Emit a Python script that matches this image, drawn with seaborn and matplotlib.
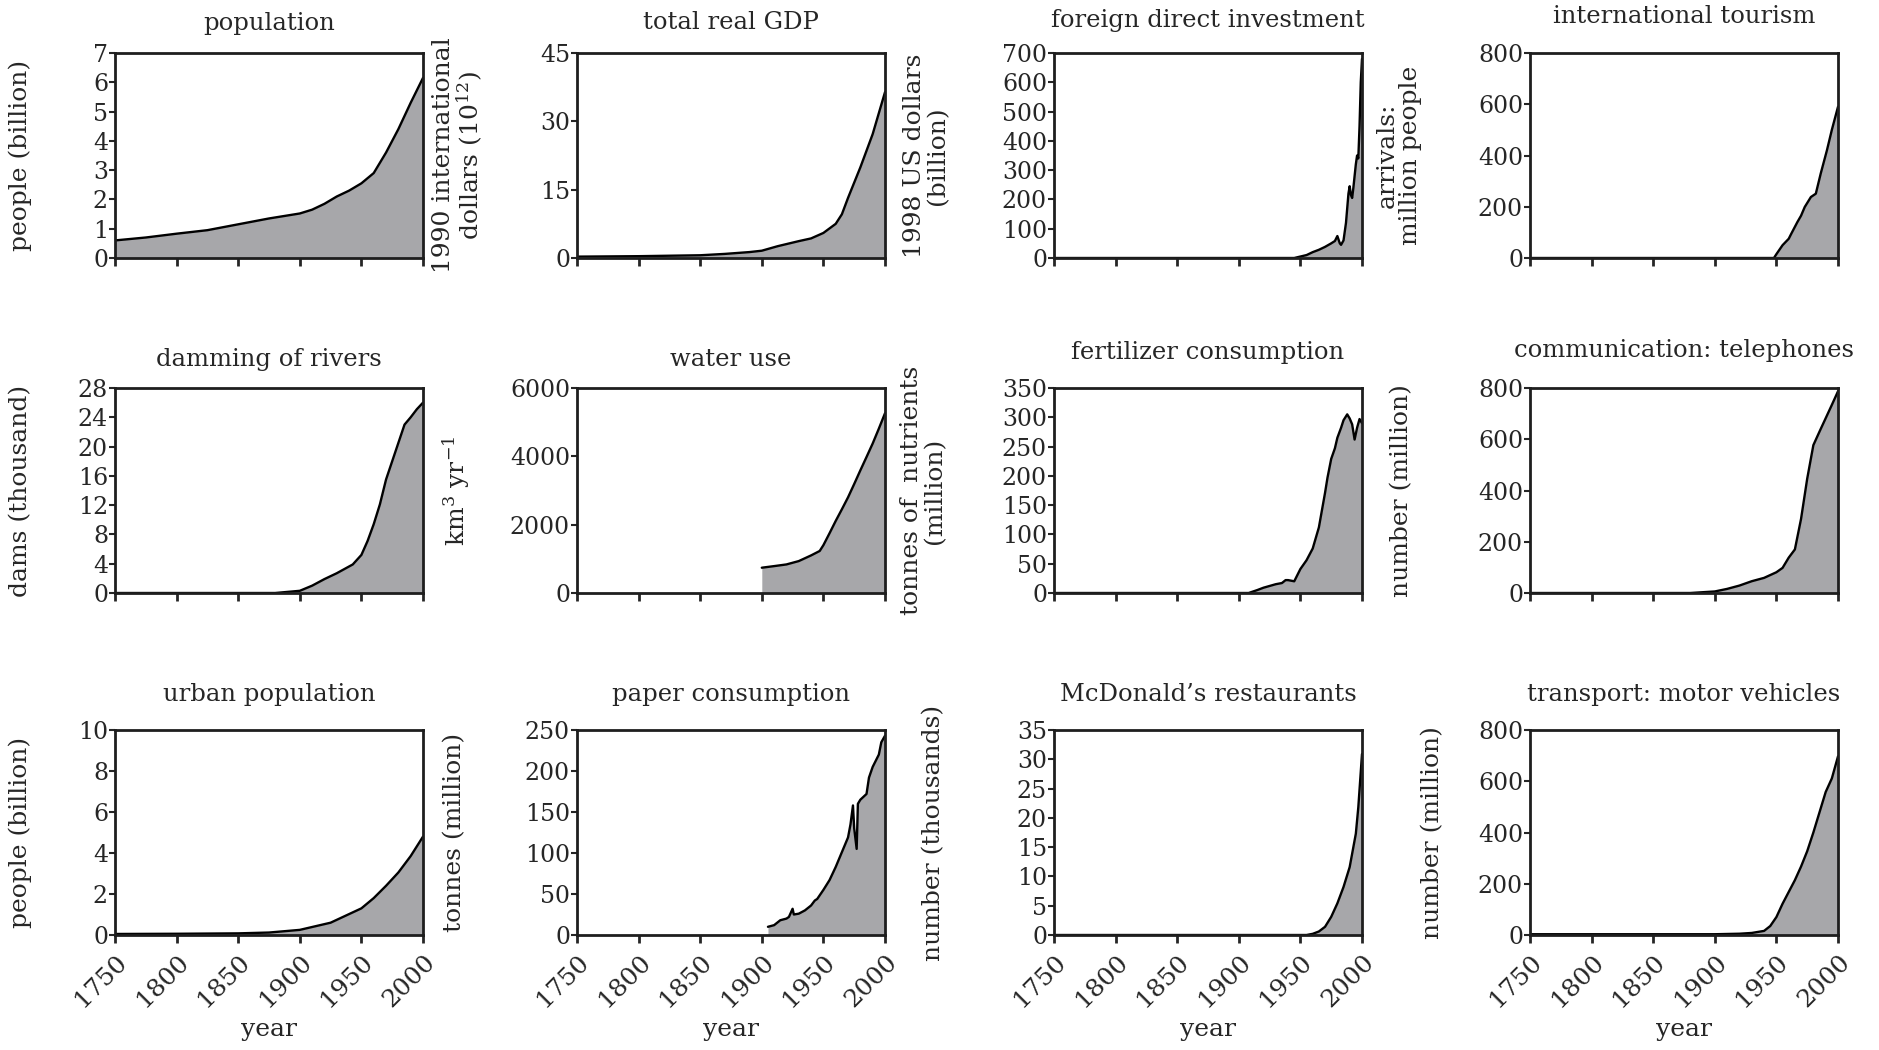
import matplotlib
matplotlib.use('Agg')
import matplotlib.pyplot as plt
import seaborn as sns

# ---- data (year, value) ----
pop_years = [1750, 1775, 1800, 1825, 1850, 1875, 1900, 1910, 1920, 1930, 1940, 1950, 1960, 1970, 1980, 1990, 2000]
pop_values = [0.6, 0.7, 0.83, 0.95, 1.15, 1.35, 1.52, 1.65, 1.85, 2.1, 2.3, 2.55, 2.9, 3.6, 4.4, 5.3, 6.15]

gdp_years = [1750, 1800, 1850, 1870, 1890, 1900, 1913, 1930, 1940, 1950, 1960, 1965, 1970, 1980, 1990, 2000]
gdp_values = [0.3, 0.4, 0.6, 0.9, 1.3, 1.6, 2.6, 3.7, 4.3, 5.5, 7.5, 9.6, 13.2, 19.9, 27.2, 36.4]

fdi_years = [1750, 1945, 1955, 1960, 1965, 1970, 1975, 1978, 1980, 1982, 1983, 1985, 1987, 1989, 1990, 1991,
             1992, 1993, 1995, 1996, 1997, 1998, 1999, 2000]
fdi_values = [0, 0, 10, 20, 28, 38, 50, 58, 75, 50, 45, 60, 120, 220, 245, 215, 205, 240, 320, 350, 340, 450,
              600, 680]

tour_years = [1750, 1948, 1950, 1955, 1960, 1962, 1967, 1970, 1973, 1978, 1982, 1986, 1991, 1995, 2000]
tour_values = [0, 0, 15, 50, 75, 94, 140, 165, 199, 238, 251, 330, 420, 500, 590]

dam_years = [1750, 1880, 1900, 1910, 1920, 1930, 1943, 1950, 1955, 1960, 1965, 1970, 1975, 1980, 1985, 1990,
             1995, 2000]
dam_values = [0, 0, 0.3, 1.0, 1.9, 2.7, 3.9, 5.2, 7.1, 9.4, 12.1, 15.5, 18.0, 20.5, 23.0, 24.0, 25.1, 26.0]

water_years = [1900, 1910, 1920, 1930, 1940, 1947, 1950, 1955, 1960, 1965, 1970, 1975, 1980, 1985, 1990, 1995,
               2000]
water_values = [740, 787, 836, 934, 1100, 1230, 1400, 1750, 2110, 2450, 2800, 3190, 3590, 3980, 4375, 4810, 5260]

fert_years = [1750, 1908, 1915, 1920, 1925, 1930, 1935, 1938, 1940, 1945, 1950, 1955, 1960, 1965, 1970, 1972,
              1975, 1978, 1980, 1983, 1985, 1988, 1990, 1992, 1994, 1996, 1998, 2000]
fert_values = [0, 0, 5, 9, 12, 15, 17, 22, 22, 20, 41, 56, 76, 112, 171, 197, 229, 247, 265, 282, 295, 305,
               298, 288, 262, 282, 297, 290]

phone_years = [1750, 1880, 1900, 1910, 1920, 1930, 1940, 1950, 1955, 1960, 1965, 1970, 1975, 1980, 1985, 1990,
               1995, 2000]
phone_values = [0, 0, 6, 16, 29, 46, 59, 81, 98, 138, 170, 289, 446, 577, 630, 682, 734, 787]

urban_years = [1750, 1800, 1850, 1875, 1900, 1925, 1950, 1960, 1970, 1980, 1990, 2000]
urban_values = [0.05, 0.06, 0.08, 0.12, 0.25, 0.6, 1.3, 1.8, 2.4, 3.05, 3.85, 4.8]

paper_years = [1905, 1910, 1915, 1920, 1922, 1925, 1926, 1930, 1935, 1940, 1943, 1945, 1950, 1955, 1960, 1965,
               1970, 1972, 1974, 1975, 1977, 1978, 1980, 1985, 1987, 1990, 1995, 1997, 2000]
paper_values = [10, 12, 18, 20, 22, 32, 25, 26, 30, 36, 42, 44, 55, 67, 83, 101, 119, 135, 158, 130, 105, 160,
                165, 172, 192, 205, 220, 235, 243]

mcd_years = [1750, 1955, 1960, 1965, 1970, 1975, 1980, 1985, 1990, 1995, 1997, 2000]
mcd_values = [0, 0, 0.2, 0.6, 1.4, 3.1, 5.4, 8.2, 11.6, 17.3, 21.8, 30.9]

car_years = [1750, 1900, 1920, 1930, 1940, 1945, 1950, 1955, 1960, 1965, 1970, 1975, 1980, 1985, 1990, 1995, 2000]
car_values = [3, 3, 5, 8, 16, 35, 70, 122, 168, 214, 267, 327, 400, 479, 558, 611, 697]

titles = ['population', 'total real GDP', 'foreign direct investment', 'international tourism',
          'damming of rivers', 'water use', 'fertilizer consumption', 'communication: telephones',
          'urban population', 'paper consumption', "McDonald\u2019s restaurants", 'transport: motor vehicles']
ylabels = ['people (billion)', '1990 international\ndollars (10$^{12}$)', '1998 US dollars\n(billion)',
           'arrivals:\nmillion people', 'dams (thousand)', 'km$^3$ yr$^{-1}$', 'tonnes of  nutrients\n(million)',
           'number (million)', 'people (billion)', 'tonnes (million)', 'number (thousands)', 'number (million)']
series = [(pop_years, pop_values), (gdp_years, gdp_values), (fdi_years, fdi_values), (tour_years, tour_values),
          (dam_years, dam_values), (water_years, water_values), (fert_years, fert_values),
          (phone_years, phone_values), (urban_years, urban_values), (paper_years, paper_values),
          (mcd_years, mcd_values), (car_years, car_values)]
yticks = [range(0, 8), range(0, 46, 15), range(0, 701, 100), range(0, 801, 200),
          range(0, 29, 4), range(0, 6001, 2000), range(0, 351, 50), range(0, 801, 200),
          range(0, 11, 2), range(0, 251, 50), range(0, 36, 5), range(0, 801, 200)]
year_ticks = [1750, 1800, 1850, 1900, 1950, 2000]

# ---- layout (pixels in the 1879x1050 figure) ----
W, H = 1879, 1050
col_left = [115, 577, 1054, 1530]
row_top = [53, 388, 730]
ax_w, ax_h = 308, 205
ylabel_x = [-0.27, -0.30, -0.34, -0.35, -0.27, -0.34, -0.35, -0.38, -0.27, -0.36, -0.354, -0.28]
title_pad = [16.5, 17, 18.5, 21.5, 16, 16, 21, 22.5, 21, 21, 21, 21]

sns.set_style('ticks')
plt.rcParams['font.family'] = ['DejaVu Serif']
plt.rcParams['mathtext.fontset'] = 'dejavuserif'
txt = '#262626'
fill_col = '#a7a7aa'

fig = plt.figure(figsize=(W / 100, H / 100), dpi=100)

for i in range(12):
    r, c = divmod(i, 4)
    rect = [col_left[c] / W, 1 - (row_top[r] + ax_h) / H, ax_w / W, ax_h / H]
    ax = fig.add_axes(rect)
    xs, ys = series[i]
    ax.fill_between(xs, ys, 0, color=fill_col, linewidth=0)
    sns.lineplot(x=xs, y=ys, ax=ax, color='black', linewidth=1.7)
    ax.set_xlim(1750, 2000)
    yt = list(yticks[i])
    ax.set_ylim(0, yt[-1])
    ax.set_yticks(yt)
    ax.set_xticks(year_ticks)
    for sp in ax.spines.values():
        sp.set_visible(True)
        sp.set_linewidth(2.0)
        sp.set_color('#1e1e1e')
    ax.tick_params(axis='y', direction='out', length=4, width=1.5, pad=1, labelsize=17, colors=txt)
    ax.tick_params(axis='x', direction='out', length=6, width=2, pad=5, labelsize=18, colors=txt)
    ax.set_title(titles[i], fontsize=17.5, color=txt, pad=title_pad[i])
    ax.set_ylabel(ylabels[i], fontsize=18, color=txt, linespacing=1.0)
    ax.yaxis.set_label_coords(ylabel_x[i], 0.5)
    if r < 2:
        ax.tick_params(axis='x', labelbottom=False)
        ax.set_xlabel('')
    else:
        ax.set_xticklabels([str(y) for y in year_ticks], rotation=45, ha='right', va='top',
                           rotation_mode='anchor')
        ax.set_xlabel('year', fontsize=18, color=txt, labelpad=5)

fig.savefig('out.png', dpi=100, facecolor='white')
